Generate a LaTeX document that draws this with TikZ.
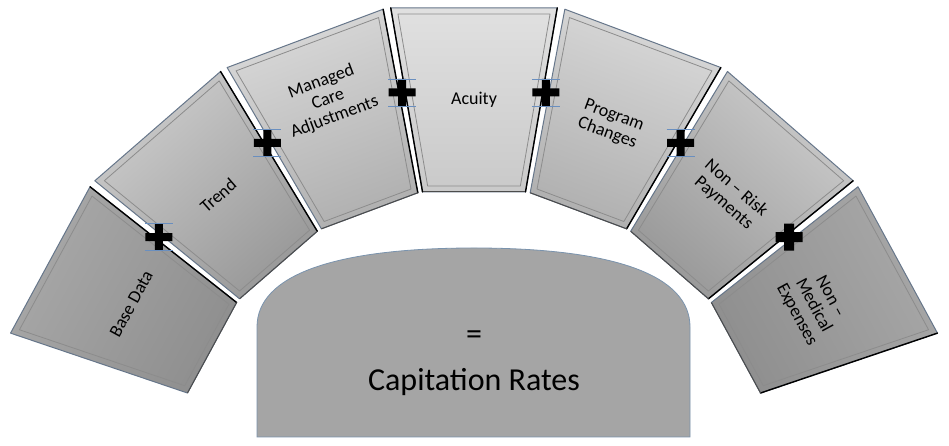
\documentclass[tikz,border=0pt]{standalone}
\usepackage{fontspec}
\setmainfont{Carlito}
\usetikzlibrary{calc}
\definecolor{rimblue}{HTML}{66768A}
\definecolor{panelinset}{HTML}{8C8C8C}
\definecolor{domefill}{HTML}{A5A5A5}
\definecolor{domeline}{HTML}{7A93AD}
\definecolor{selblue}{HTML}{6A8FBF}
\tikzset{
  paneltext/.style={font=\fontsize{18}{19}\selectfont, align=center, text=black, inner sep=0pt},
  bigtext/.style={font=\fontsize{32}{36}\selectfont, text=black, inner sep=0pt},
  plusbar/.style={fill=black, draw=none},
  selline/.style={draw=selblue, line width=0.6pt},
  rimline/.style={draw=rimblue, line width=1pt, line join=round},
  insetline/.style={draw=panelinset, line width=0.8pt, line join=round},
  shadowline/.style={draw=black, line width=1.4pt, line cap=round},
}
% #1 angle, #2 outer colour, #3 inner colour, #4 name, #5 text, #6 text radius
\newcommand\drawpanel[6]{%
  \pgfmathsetmacro\pa{#1+9.8}%
  \pgfmathsetmacro\pb{#1-9.8}%
  \pgfmathsetmacro\pia{#1+9.08}%
  \pgfmathsetmacro\pib{#1-9.08}%
  \pgfmathsetmacro\pja{#1+8.67}%
  \pgfmathsetmacro\pjb{#1-8.67}%
  \pgfmathsetmacro\rot{#1-90}%
  \shade[top color=#2, bottom color=#3, shading angle=\rot]
     (\pa:489.3) -- (\pb:489.3) -- (\pb:302.5) -- (\pa:302.5) -- cycle;
  \draw[insetline] (\pia:482) -- (\pib:482) -- (\pjb:307.5) -- (\pja:307.5) -- cycle;
  \draw[rimline] (\pa:489.3) -- (\pb:489.3) -- (\pb:302.5) -- (\pa:302.5) -- cycle;
  \draw[shadowline] (\pb:489.3) -- (\pb:302.5);
  \draw[draw=black!70, line width=1pt] (\pb:302.5) -- (\pa:302.5);
  \node[paneltext, rotate=\rot] (#4) at (#1:#6) {#5};
}
% #1 name, #2 angle, #3 half thickness, #4 selection lines (1/0)
\newcommand\plussign[4]{%
  \coordinate (#1) at (#2:404);
  \fill[plusbar, shift={(#1)}] (-13.5,-#3) rectangle (13.5,#3) (-#3,-13.5) rectangle (#3,13.5);
  \ifnum#4=1
    \draw[selline, shift={(#1)}] (-14,13.5) -- (14,13.5) (-14,-13.5) -- (14,-13.5);
  \fi
}
\begin{document}
\begin{tikzpicture}[x=1pt,y=1pt]
\useasboundingbox (0,0) rectangle (949,446);
\fill[white] (0,0) rectangle (949,446);
% dome
\draw[domeline, fill=domefill, line width=0.8pt]
  (257,9) -- (257,119) .. controls (257,170.4) and (332.9,198) .. (474,198)
  .. controls (615.1,198) and (690,170.4) .. (690,119) -- (690,9) -- cycle;
\node[bigtext] (eq) at (474,108) {=};
\node[bigtext] (cap) at (474,64) {Capitation Rates};
\begin{scope}[shift={(474,-44)}]
  \drawpanel{151.5}{black!34}{black!44}{base}{Base Data}{390}
  \drawpanel{131}{black!20}{black!40}{trend}{Trend}{390}
  \drawpanel{110.5}{black!15}{black!31}{mca}{Managed\\Care\\Adjustments}{417}
  \drawpanel{90}{black!12}{black!21}{acuity}{Acuity}{390}
  \draw[shadowline] (99.8:489.3) -- (99.8:302.5);
  \drawpanel{69.5}{black!15}{black!31}{prog}{Program\\Changes}{390}
  \drawpanel{49}{black!20}{black!40}{nonrisk}{Non -- Risk\\Payments}{390}
  \drawpanel{28.5}{black!34}{black!44}{nonmed}{Non --\\Medical\\Expenses}{386}
  \plussign{p1}{141.25}{4}{1}
  \plussign{p2}{120.75}{4}{1}
  \plussign{p3}{100.25}{4}{1}
  \plussign{p4}{79.75}{4}{1}
  \plussign{p5}{59.25}{4}{1}
  \plussign{p6}{38.75}{5}{0}
\end{scope}
\end{tikzpicture}
\end{document}
